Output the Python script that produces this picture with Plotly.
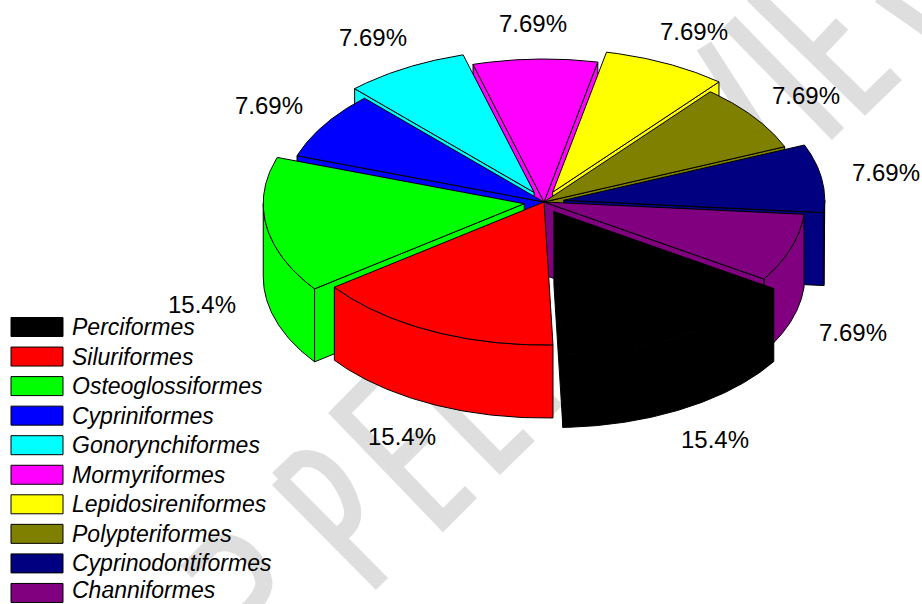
import numpy as np
import plotly.graph_objects as go

ORDERS = [
    "Perciformes", "Siluriformes", "Osteoglossiformes", "Cypriniformes",
    "Gonorynchiformes", "Mormyriformes", "Lepidosireniformes",
    "Polypteriformes", "Cyprinodontiformes", "Channiformes",
]
SHARES = [15.4, 15.4, 15.4, 7.69, 7.69, 7.69, 7.69, 7.69, 7.69, 7.69]
SHARE_LABELS = ["15.4%", "15.4%", "15.4%", "7.69%", "7.69%", "7.69%", "7.69%", "7.69%", "7.69%", "7.69%"]
COLORS = [
    "#000000", "#ff0000", "#00ff00", "#0000ff", "#00ffff",
    "#ff00ff", "#ffff00", "#808000", "#000080", "#800080",
]
EXPLODED = [True, False, True, False, True, False, True, False, True, False]

# projected pie, everything in page pixels
CX, CY = 544, 202
RX, RY = 261, 143
WALL = 73
PULL = 20
START_DEG = -32.6
LABEL_R = 1.25
FONT = "Liberation Sans"
WATERMARK = "#dedede"

# big diagonal watermark strokes, they sit behind the pie
WATERMARK_PATHS = [
    "M186,572 L213,545 C238,535 260,560 264,582 C264,592 258,600 248,610",
    "M278,479 L298,460 C322,452 345,480 352,507 C355,520 349,530 336,536",
    "M278,479 L382,584",
    "M385,367 L340,413 L443,520 L471,492",
    "M392,467 L424,435",
    "M442,312 L397,358 L500,463 L529,435",
    "M449,412 L485,376",
    "M451,303 L557,411",
    "M704,46 L787,175 L658,90",
    "M729,22 L838,134",
    "M753,-5 L865,104 L896,74",
    "M813,55 L842,24",
    "M880,-5 L930,30",
]


def slice_polys(a, b, apex_x, apex_y):
    t = np.radians(np.linspace(a, b, 80))
    rim_x = apex_x + RX * np.cos(t)
    rim_y = apex_y - RY * np.sin(t)
    polys = []

    # outer wall, only the part that faces the viewer
    turns = [k * 180.0 for k in range(-4, 5) if a < k * 180.0 < b]
    t_all = np.radians(np.unique(np.concatenate([np.linspace(a, b, 80), turns])))
    t_front = t_all[np.sin(t_all) <= 1e-9]
    if len(t_front) > 1:
        fx = apex_x + RX * np.cos(t_front)
        fy = apex_y - RY * np.sin(t_front)
        polys.append((np.r_[fx, fx[::-1], fx[0]], np.r_[fy, fy[::-1] + WALL, fy[0]]))

    # radial walls
    if np.cos(np.radians(a)) > 0:
        polys.append((
            [apex_x, rim_x[0], rim_x[0], apex_x, apex_x],
            [apex_y, rim_y[0], rim_y[0] + WALL, apex_y + WALL, apex_y],
        ))
    if np.cos(np.radians(b)) < 0:
        polys.append((
            [apex_x, rim_x[-1], rim_x[-1], apex_x, apex_x],
            [apex_y, rim_y[-1], rim_y[-1] + WALL, apex_y + WALL, apex_y],
        ))

    # top face
    polys.append((np.r_[apex_x, rim_x, apex_x], np.r_[apex_y, rim_y, apex_y]))
    return polys


fig = go.Figure()

sweeps = 360.0 * np.array(SHARES) / sum(SHARES)
ends = START_DEG - np.r_[0, np.cumsum(sweeps)[:-1]]
starts = ends - sweeps
mids = np.radians((starts + ends) / 2)

annotations = []
for i in np.argsort(-np.sin(mids)):
    pull = PULL if EXPLODED[i] else 0
    apex_x = CX + pull * np.cos(mids[i])
    apex_y = CY - pull * RY / RX * np.sin(mids[i])
    for xs, ys in slice_polys(starts[i], ends[i], apex_x, apex_y):
        fig.add_trace(
            go.Scatter(
                x=xs,
                y=ys,
                mode="lines",
                fill="toself",
                fillcolor=COLORS[i],
                line=dict(color="#000000", width=1),
                name=ORDERS[i],
                hoverinfo="skip",
                showlegend=False,
            )
        )
    label_y = apex_y - LABEL_R * RY * np.sin(mids[i])
    if np.sin(mids[i]) < 0:
        label_y += WALL
    annotations.append(
        dict(
            x=apex_x + LABEL_R * RX * np.cos(mids[i]),
            y=label_y,
            text=SHARE_LABELS[i],
            showarrow=False,
            xanchor="center",
            yanchor="middle",
            font=dict(family=FONT, size=24, color="#000000"),
        )
    )

shapes = [
    dict(type="path", path=p, layer="below", line=dict(color=WATERMARK, width=17))
    for p in WATERMARK_PATHS
]

# legend block bottom left
for i, name in enumerate(ORDERS):
    row_y = 327 + i * 29.55
    shapes.append(
        dict(
            type="rect",
            x0=11,
            x1=63,
            y0=row_y - 9.5,
            y1=row_y + 9.5,
            fillcolor=COLORS[i],
            line=dict(color="#000000", width=1),
        )
    )
    # last name nudged up so its text box stays inside the page
    annotations.append(
        dict(
            x=70,
            y=min(row_y, 590),
            text=f"<i>{name}</i>",
            showarrow=False,
            xanchor="left",
            yanchor="middle",
            font=dict(family=FONT, size=23, color="#000000"),
        )
    )

hidden = dict(visible=False, fixedrange=True)
fig.update_layout(
    width=922,
    height=604,
    margin=dict(l=0, r=0, t=0, b=0),
    paper_bgcolor="#ffffff",
    plot_bgcolor="#ffffff",
    showlegend=False,
    xaxis=dict(range=[0, 922], **hidden),
    yaxis=dict(range=[604, 0], **hidden),
    shapes=shapes,
    annotations=annotations,
)

# body margin off, and round ends on the watermark strokes
post = """
document.body.style.margin = '0';
document.querySelectorAll('.layer-below .shapelayer path').forEach(function (p) {
    p.style.strokeLinecap = 'round';
    p.style.strokeLinejoin = 'round';
});
"""
fig.write_html("out.html", post_script=post, config=dict(displayModeBar=False))
